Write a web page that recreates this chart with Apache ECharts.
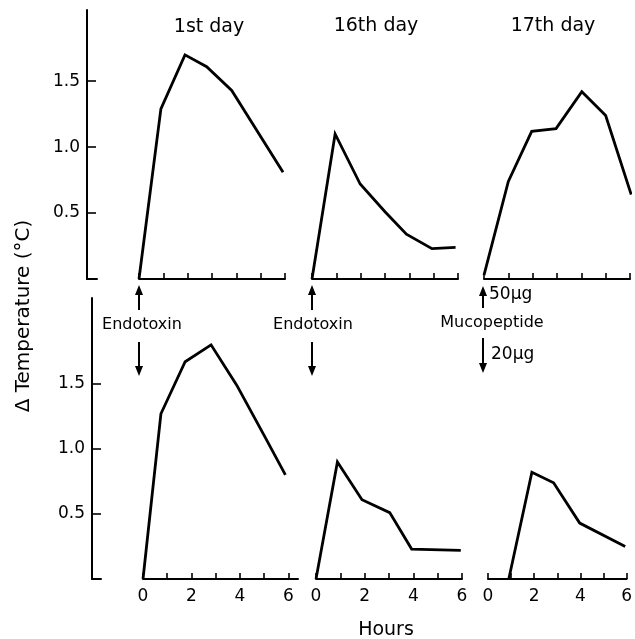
<!DOCTYPE html>
<html>
<head>
<meta charset="utf-8">
<script src="https://cdn.jsdelivr.net/npm/echarts@6/dist/echarts.min.js"></script>
<style>html,body{margin:0;padding:0;background:#fff}#c{width:635px;height:639px}</style>
</head>
<body>
<div id="c"></div>
<script>
// ---- data (hours after injection, delta temperature in °C) ----
const panelTitles = ['1st day', '16th day', '17th day'];
const hourTicks = [0, 1, 2, 3, 4, 5, 6];
const hourLabels = [0, 2, 4, 6];
const tempTicks = [0.5, 1.0, 1.5];

const top1Hours = [0, 0.9, 1.89, 2.78, 3.81, 5.92];
const top1Temp  = [0, 1.29, 1.70, 1.61, 1.43, 0.81];
const top16Hours = [0, 0.95, 1.98, 3.0, 3.88, 4.93, 5.9];
const top16Temp  = [0, 1.10, 0.72, 0.51, 0.34, 0.23, 0.24];
const top17Hours = [0, 1.0, 1.96, 2.96, 4.02, 5.0, 6.05];
const top17Temp  = [0.03, 0.74, 1.12, 1.14, 1.42, 1.24, 0.64];

const bot1Hours = [0, 0.74, 1.74, 2.81, 3.87, 5.04, 5.88];
const bot1Temp  = [0, 1.27, 1.67, 1.80, 1.49, 1.09, 0.80];
const bot16Hours = [0, 0.88, 1.89, 3.03, 3.93, 5.95];
const bot16Temp  = [0, 0.90, 0.61, 0.51, 0.23, 0.22];
const bot17Hours = [0.9, 1.9, 2.84, 3.97, 5.94];
const bot17Temp  = [0, 0.82, 0.74, 0.43, 0.25];

const seriesHours = [top1Hours, top16Hours, top17Hours, bot1Hours, bot16Hours, bot17Hours];
const seriesTemp  = [top1Temp, top16Temp, top17Temp, bot1Temp, bot16Temp, bot17Temp];

// ---- layout ----
const FONT = 'DejaVu Sans';
const topRow = {top: 10, height: 269, ymax: 2.04};
const botRow = {top: 298, height: 281, ymax: 2.16};
const panelBoxes = [
  {left: 139, width: 146, xmax: 6, row: topRow, labels: false},
  {left: 312, width: 146, xmax: 6, row: topRow, labels: false},
  {left: 484, width: 146, xmax: 6, row: topRow, labels: false},
  {left: 143, width: 155, xmax: 6.4, row: botRow, labels: true},
  {left: 316, width: 146, xmax: 6, row: botRow, labels: true},
  {left: 488, width: 145, xmax: 6, row: botRow, labels: true}
];
const yBoxes = [
  {left: 87, width: 10, row: topRow},
  {left: 92, width: 9, row: botRow}
];

const grids = [], xAxes = [], yAxes = [], series = [];
const axLine = {show: true, lineStyle: {color: '#000', width: 2}};

panelBoxes.forEach((b, i) => {
  grids.push({left: b.left, top: b.row.top, width: b.width, height: b.row.height});
  xAxes.push({
    type: 'value', gridIndex: i, min: 0, max: b.xmax,
    axisLine: axLine,
    axisTick: {show: true, inside: true, length: 6, customValues: hourTicks, lineStyle: {color: '#000', width: 1.6}},
    axisLabel: {show: b.labels, customValues: hourLabels, margin: 9, color: '#000', fontSize: 17, fontFamily: FONT},
    splitLine: {show: false}
  });
  yAxes.push({
    type: 'value', gridIndex: i, min: 0, max: b.row.ymax,
    show: false, splitLine: {show: false}
  });
  series.push({
    type: 'line', xAxisIndex: i, yAxisIndex: i,
    data: seriesHours[i].map((h, k) => [h, seriesTemp[i][k]]),
    showSymbol: false, symbol: 'none',
    lineStyle: {color: '#000', width: 2.8, join: 'miter'},
    silent: true, animation: false
  });
});

yBoxes.forEach((b, j) => {
  const gi = grids.length;
  grids.push({left: b.left, top: b.row.top, width: b.width, height: b.row.height});
  xAxes.push({
    type: 'value', gridIndex: gi, min: 0, max: 1,
    axisLine: axLine, axisTick: {show: false}, axisLabel: {show: false}, splitLine: {show: false}
  });
  yAxes.push({
    type: 'value', gridIndex: gi, min: 0, max: b.row.ymax,
    axisLine: axLine,
    axisTick: {show: true, inside: true, length: 9, customValues: tempTicks, lineStyle: {color: '#000', width: 1.6}},
    axisLabel: {show: true, customValues: tempTicks, margin: 7, color: '#000', fontSize: 17, fontFamily: FONT,
      formatter: v => v.toFixed(1)},
    splitLine: {show: false}
  });
});

function txt(x, y, s, size, extra) {
  return Object.assign({
    type: 'text', x: x, y: y,
    style: {text: s, fill: '#000', font: size + 'px "' + FONT + '"', textAlign: 'center', textVerticalAlign: 'middle'}
  }, extra || {});
}
function arrow(x, y1, y2) {
  // y1 tail, y2 tip
  const dir = y2 > y1 ? 1 : -1;
  return [
    {type: 'line', shape: {x1: x, y1: y1, x2: x, y2: y2 - dir * 4}, style: {stroke: '#000', lineWidth: 2}},
    {type: 'polygon', shape: {points: [[x, y2], [x - 4, y2 - dir * 10], [x + 4, y2 - dir * 10]]}, style: {fill: '#000'}}
  ];
}

const graphics = [
  txt(209, 27, panelTitles[0], 19),
  txt(376, 26, panelTitles[1], 19),
  txt(553, 26, panelTitles[2], 19),
  txt(142, 325, 'Endotoxin', 16),
  txt(313, 325, 'Endotoxin', 16),
  txt(492, 323, 'Mucopeptide', 16),
  txt(489, 295, '50μg', 17),
  txt(491, 355, '20μg', 17),
  txt(386, 630, 'Hours', 19),
  txt(24, 316, 'Δ Temperature (°C)', 20, {rotation: Math.PI / 2})
].concat(arrow(139, 310, 285), arrow(139, 342, 376), arrow(312, 310, 285), arrow(312, 342, 376),
          arrow(483, 308, 286), arrow(483, 338, 373));
graphics[6].style.textAlign = 'left';
graphics[7].style.textAlign = 'left';

const chart = echarts.init(document.getElementById('c'), null, {renderer: 'canvas'});
chart.setOption({
  animation: false,
  backgroundColor: '#fff',
  grid: grids, xAxis: xAxes, yAxis: yAxes, series: series,
  graphic: graphics
});
</script>
</body>
</html>
